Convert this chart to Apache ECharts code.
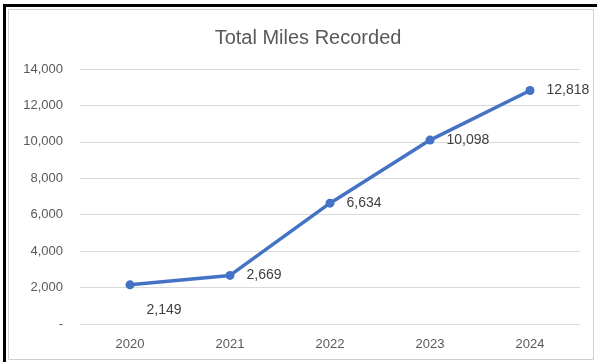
<!DOCTYPE html>
<html><head><meta charset="utf-8">
<script src="https://cdn.jsdelivr.net/npm/echarts@6/dist/echarts.min.js"></script>
<style>html,body{margin:0;padding:0;background:#fff;}#c{width:597px;height:362px;}</style>
</head><body><div id="c"></div>
<script>
const years = ['2020','2021','2022','2023','2024'];
const miles = [2149, 2669, 6634, 10098, 12818];
const yTicks = [0, 2000, 4000, 6000, 8000, 10000, 12000, 14000];

const chart = echarts.init(document.getElementById('c'));
const fmt = v => v === 0 ? '-' : v.toLocaleString('en-US');
chart.setOption({
  animation: false,
  title: { text: 'Total Miles Recorded', left: 303, top: 23, textAlign: 'center',
    textStyle: { fontFamily: 'Liberation Sans', fontSize: 20, fontWeight: 'normal', color: '#595959' } },
  grid: { left: 80, right: 17, top: 69, bottom: 38, containLabel: false },
  xAxis: { type: 'category', data: years, boundaryGap: true,
    axisLine: { show: true, lineStyle: { color: '#d9d9d9' } }, axisTick: { show: false },
    axisLabel: { color: '#595959', fontSize: 13, fontFamily: 'Liberation Sans', margin: 14 } },
  yAxis: { type: 'value', min: 0, max: 14000, interval: 2000,
    axisLine: { show: false }, axisTick: { show: false },
    splitLine: { lineStyle: { color: '#d9d9d9', width: 1 } },
    axisLabel: { color: '#595959', fontSize: 13, fontFamily: 'Liberation Sans', margin: 17,
      formatter: v => yTicks.includes(v) ? fmt(v) : '' } },
  series: [{
    type: 'line', data: miles.map((v, i) => i === 0 ? { value: v, label: { position: 'bottom', offset: [34, 2] } } : v),
    symbol: 'circle', symbolSize: 9,
    lineStyle: { color: '#4472C4', width: 3.5 }, itemStyle: { color: '#4472C4' },
    label: { show: true, position: 'right', distance: 12, color: '#404040', fontSize: 14, fontFamily: 'Liberation Sans',
      formatter: p => fmt(p.value) }
  }],
  graphic: [
    { type: 'rect', shape: { x: 8.5, y: 9.5, width: 585, height: 350 }, style: { fill: null, stroke: '#d0d0d0', lineWidth: 1 }, z: -1 },
    { type: 'rect', shape: { x: 3, y: 4, width: 3, height: 358 }, style: { fill: '#000' } },
    { type: 'rect', shape: { x: 3, y: 4, width: 594, height: 3 }, style: { fill: '#000' } }
  ]
});
</script></body></html>
